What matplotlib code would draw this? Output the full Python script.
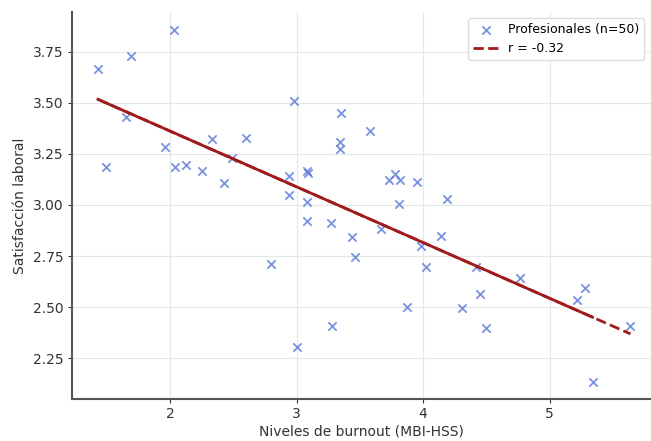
import numpy as np
import matplotlib
matplotlib.use("Agg")
from matplotlib import pyplot as plt

# niveles de burnout (MBI-HSS) y satisfaccion laboral
burnout = [1.43, 1.69, 2.03, 1.65, 1.49, 1.96, 2.04, 2.13, 2.25, 2.33,
           2.43, 2.49, 2.60, 2.94, 2.94, 2.98, 3.08, 3.09, 3.08, 3.35,
           3.34, 3.34, 3.58, 3.73, 3.78, 3.82, 3.95, 3.81, 4.19, 3.08,
           3.27, 3.44, 3.46, 2.80, 3.28, 3.00, 3.67, 3.98, 4.14, 4.02,
           4.42, 4.77, 4.45, 3.87, 4.31, 4.50, 5.22, 5.28, 5.64, 5.34]
satisfaccion = [3.665, 3.73, 3.858, 3.43, 3.188, 3.286, 3.188, 3.196, 3.167, 3.322,
                3.109, 3.229, 3.327, 3.142, 3.047, 3.511, 3.168, 3.155, 3.013, 3.452,
                3.307, 3.273, 3.364, 3.122, 3.152, 3.122, 3.111, 3.005, 3.028, 2.92,
                2.913, 2.845, 2.744, 2.711, 2.408, 2.302, 2.88, 2.80, 2.848, 2.698,
                2.698, 2.64, 2.562, 2.498, 2.493, 2.395, 2.534, 2.592, 2.407, 2.134]
r_texto = "r = -0.32"

x = np.array(burnout)
y = np.array(satisfaccion)
m, b = np.polyfit(x, y, 1)  # recta de ajuste
xs = np.sort(x)
xl = np.array([xs[0], xs[-1]])
xl2 = np.array([xs[0], xs[-2]])

fig = plt.figure(figsize=(6.51, 4.41), dpi=100)
ax = fig.add_axes([0.1106, 0.095, 0.889, 0.878])

ax.scatter(x, y, marker="x", color="#5878d8", alpha=0.8, s=36, linewidths=1.3,
           label="Profesionales (n=50)", zorder=3)
ax.plot(xl, m * xl + b, "--", color="#a01c1c", lw=2, label=r_texto, zorder=4)
ax.plot(xl2, m * xl2 + b, "-", color="#a01c1c", lw=2, zorder=4)

ax.set_xlim(1.225, 5.80)
ax.set_ylim(2.049, 3.946)
ax.set_xticks([2, 3, 4, 5])
ax.set_yticks([2.25, 2.5, 2.75, 3.0, 3.25, 3.5, 3.75])
ax.yaxis.set_major_formatter(matplotlib.ticker.FormatStrFormatter("%.2f"))
ax.grid(True, color="#e6e6e6", lw=0.8)
ax.set_axisbelow(True)
for s in ["top", "right"]:
    ax.spines[s].set_visible(False)
for s in ["left", "bottom"]:
    ax.spines[s].set_color("#555555")
    ax.spines[s].set_linewidth(1.5)
ax.tick_params(colors="#333333", labelsize=10, length=3, pad=3)

ax.set_xlabel("Niveles de burnout (MBI-HSS)", fontsize=10, color="#333333", labelpad=2)
ax.set_ylabel("Satisfacción laboral", fontsize=10, color="#333333")
ax.legend(loc="upper right", fontsize=9, framealpha=1, edgecolor="#dddddd")

fig.savefig("out.png")
